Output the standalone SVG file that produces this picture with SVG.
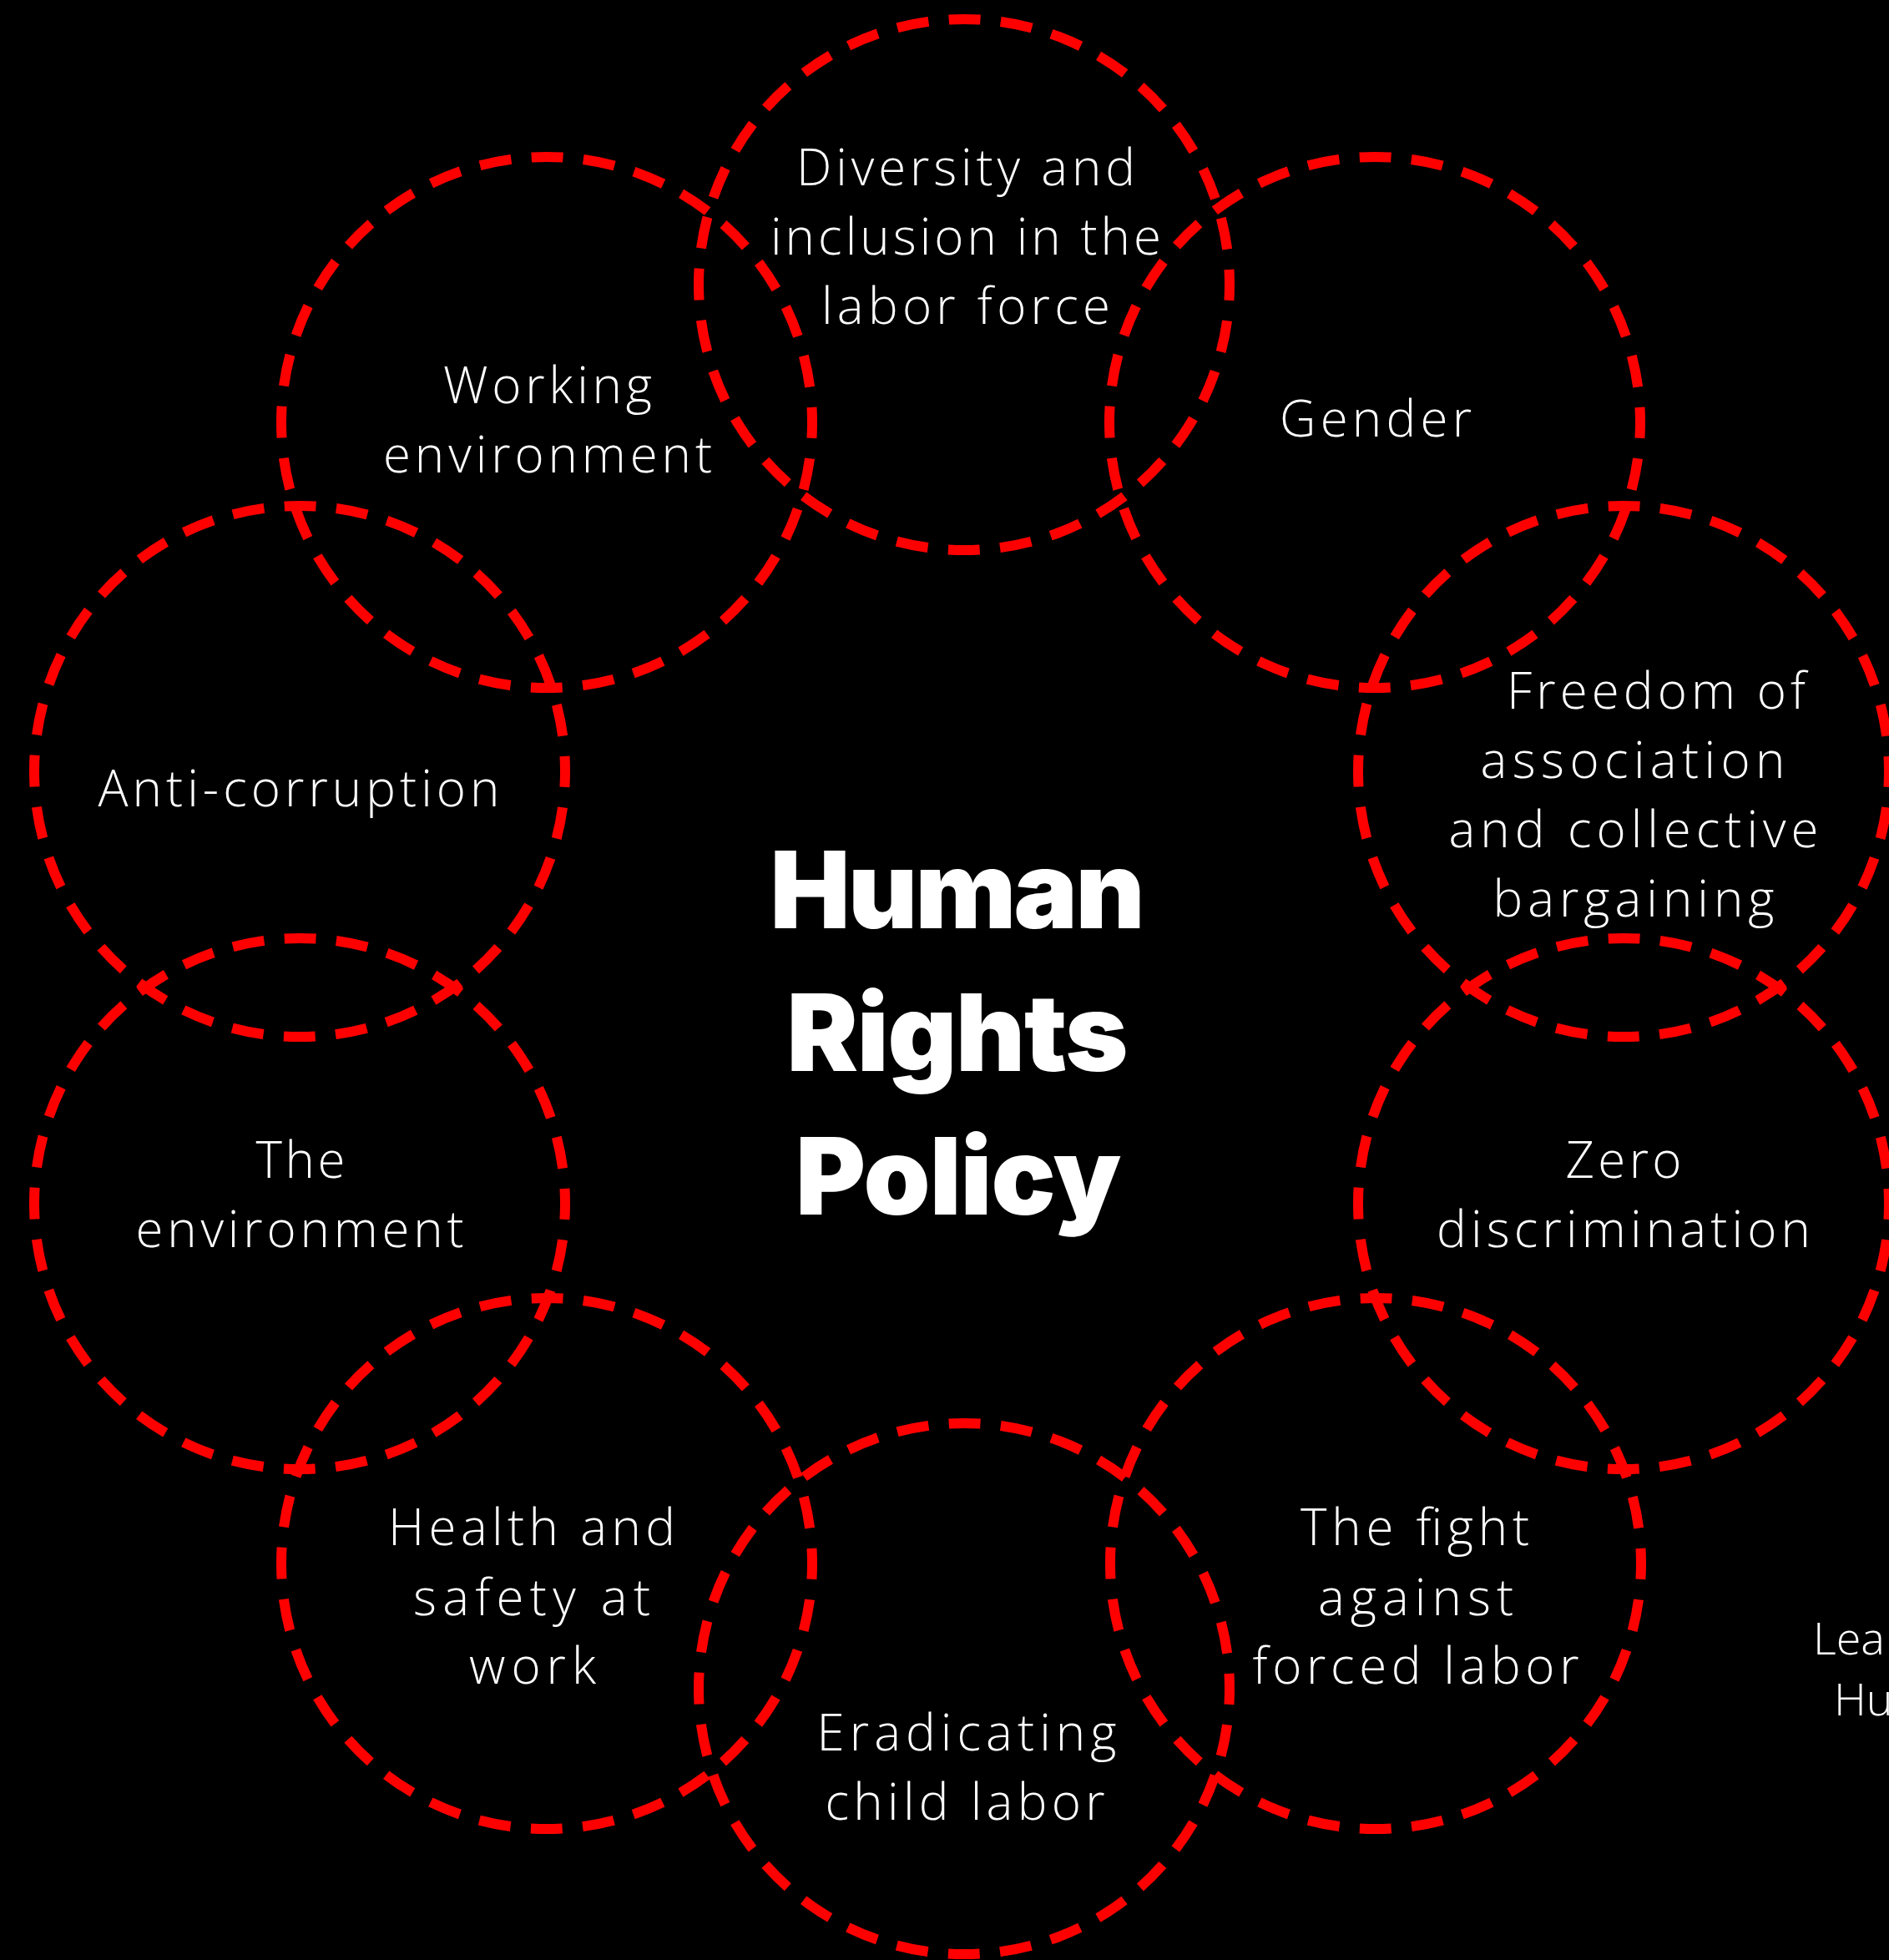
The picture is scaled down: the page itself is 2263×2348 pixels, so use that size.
<svg xmlns="http://www.w3.org/2000/svg" width="2263" height="2348" viewBox="0 0 2263 2348">
<style>
.ring{fill:none;stroke:#ff0000;stroke-width:12;stroke-dasharray:38 24.439;stroke-dashoffset:19}
.lbl{font-family:"Open Sans","Noto Sans","Liberation Sans",sans-serif;font-weight:300;font-size:60px;fill:#ffffff;text-anchor:middle}
.ttl{font-family:Inter,Lato,Roboto,"Liberation Sans",sans-serif;font-weight:900;font-size:128px;fill:#ffffff;text-anchor:middle}
.side{font-family:"Open Sans","Noto Sans","Liberation Sans",sans-serif;font-weight:300;font-size:54px;fill:#ffffff}
</style>
<rect x="0" y="0" width="2263" height="2348" fill="#000000"/>
<g id="node-diversity">
<circle class="ring" cx="1155" cy="341" r="318"/>
<text class="lbl" x="1157" y="222" textLength="406" lengthAdjust="spacing">Diversity and</text>
<text class="lbl" x="1157" y="305" textLength="468" lengthAdjust="spacing">inclusion in the</text>
<text class="lbl" x="1157" y="388" textLength="346" lengthAdjust="spacing">labor force</text>
</g>
<g id="node-working">
<circle class="ring" cx="655" cy="506" r="318"/>
<text class="lbl" x="656" y="483" textLength="250" lengthAdjust="spacing">Working</text>
<text class="lbl" x="656" y="566" textLength="394" lengthAdjust="spacing">environment</text>
</g>
<g id="node-gender">
<circle class="ring" cx="1647" cy="506" r="318"/>
<text class="lbl" x="1648" y="523" textLength="230" lengthAdjust="spacing">Gender</text>
</g>
<g id="node-anticorruption">
<circle class="ring" cx="359" cy="924" r="318"/>
<text class="lbl" x="358" y="966" textLength="481" lengthAdjust="spacing">Anti-corruption</text>
</g>
<g id="node-freedom">
<circle class="ring" cx="1945" cy="924" r="318"/>
<text class="lbl" x="1984" y="849" textLength="358" lengthAdjust="spacing">Freedom of</text>
<text class="lbl" x="1956" y="932" textLength="365" lengthAdjust="spacing">association</text>
<text class="lbl" x="1957" y="1015" textLength="443" lengthAdjust="spacing">and collective</text>
<text class="lbl" x="1957" y="1098" textLength="337" lengthAdjust="spacing">bargaining</text>
</g>
<g id="node-environment">
<circle class="ring" cx="359" cy="1442" r="318"/>
<text class="lbl" x="360" y="1411" textLength="107" lengthAdjust="spacing">The</text>
<text class="lbl" x="359" y="1494" textLength="393" lengthAdjust="spacing">environment</text>
</g>
<g id="node-zero">
<circle class="ring" cx="1945" cy="1442" r="318"/>
<text class="lbl" x="1945" y="1411" textLength="139" lengthAdjust="spacing">Zero</text>
<text class="lbl" x="1945" y="1494" textLength="448" lengthAdjust="spacing">discrimination</text>
</g>
<g id="node-health">
<circle class="ring" cx="655" cy="1873" r="318"/>
<text class="lbl" x="637" y="1851" textLength="344" lengthAdjust="spacing">Health and</text>
<text class="lbl" x="637" y="1935" textLength="284" lengthAdjust="spacing">safety at</text>
<text class="lbl" x="638" y="2017" textLength="152" lengthAdjust="spacing">work</text>
</g>
<g id="node-forced">
<circle class="ring" cx="1648" cy="1873" r="318"/>
<text class="lbl" x="1695" y="1851" textLength="274" lengthAdjust="spacing">The fight</text>
<text class="lbl" x="1696" y="1935" textLength="234" lengthAdjust="spacing">against</text>
<text class="lbl" x="1696" y="2017" textLength="391" lengthAdjust="spacing">forced labor</text>
</g>
<g id="node-child">
<circle class="ring" cx="1155" cy="2023" r="318"/>
<text class="lbl" x="1158" y="2097" textLength="359" lengthAdjust="spacing">Eradicating</text>
<text class="lbl" x="1156" y="2180" textLength="335" lengthAdjust="spacing">child labor</text>
</g>
<g id="node-title">
<text class="ttl" x="1147" y="1112" textLength="449" lengthAdjust="spacing">Human</text>
<text class="ttl" x="1147" y="1283" textLength="409" lengthAdjust="spacing">Rights</text>
<text class="ttl" x="1148" y="1455" textLength="390" lengthAdjust="spacing">Policy</text>
</g>
<g id="node-side">
<text class="side" x="2172" y="1982">Lea</text>
<text class="side" x="2197" y="2055">Hu</text>
</g>
</svg>
